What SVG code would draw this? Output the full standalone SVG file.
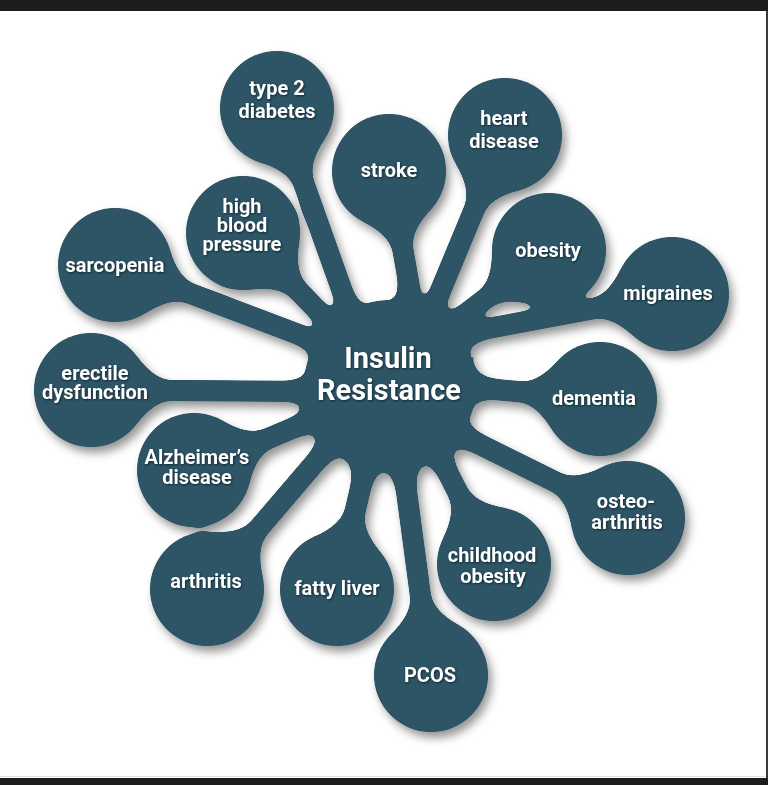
<svg xmlns="http://www.w3.org/2000/svg" width="768" height="785" viewBox="0 0 768 785">
<defs>
<style>
.node circle, .hub circle { fill: #2d5566; }
.conn path { fill: #2d5566; }
.lbl { font-family: Roboto, "Liberation Sans", sans-serif; font-weight: 700; font-size: 20px; fill: #ffffff; text-anchor: middle; filter: url(#tsh); }
.big { font-size: 29px; }
</style>
<filter id="goo" filterUnits="userSpaceOnUse" x="0" y="0" width="768" height="785" color-interpolation-filters="sRGB">
<feGaussianBlur in="SourceAlpha" stdDeviation="4" result="b"/>
<feColorMatrix in="b" type="matrix" values="0 0 0 0 0  0 0 0 0 0  0 0 0 0 0  0 0 0 30 -15" result="g"/>
<feFlood flood-color="#2d5566"/>
<feComposite in2="g" operator="in" result="shape"/>
<feGaussianBlur in="g" stdDeviation="5" result="sb"/>
<feOffset in="sb" dx="4" dy="6" result="so"/>
<feFlood flood-color="#000000" flood-opacity="0.42"/>
<feComposite in2="so" operator="in" result="shadow"/>
<feMerge><feMergeNode in="shadow"/><feMergeNode in="shape"/><feMergeNode in="SourceGraphic"/></feMerge>
</filter>
<filter id="tsh" x="-20%" y="-40%" width="140%" height="180%" color-interpolation-filters="sRGB">
<feDropShadow dx="0.8" dy="1" stdDeviation="0.8" flood-color="#0d2128" flood-opacity="0.9"/>
</filter>
</defs>
<rect x="0" y="0" width="768" height="785" fill="#ffffff"/>
<rect x="0" y="0" width="768" height="11" fill="#1c1c1c"/>
<rect x="0" y="776" width="768" height="1" fill="#e2e2e2"/>
<rect x="0" y="778" width="768" height="7" fill="#1c1c1c"/>
<rect x="766" y="11" width="2" height="767" fill="#3a3a3a"/>
<g id="diagram" filter="url(#goo)">
<g id="connectors" class="conn">
<path transform="translate(277 108) rotate(70.4)" d="M45.5,-34.3 Q63.4,-10.5 80,-10.5 L193,-10.5 Q220,-10.5 221,-30 L265,-24 L265,24 L221,30 Q220,10.5 193,10.5 L80,10.5 Q63.4,10.5 45.5,34.3 Z"/>
<path transform="translate(389 171) rotate(80)" d="M45.5,-34.3 Q63.4,-10.5 80,-10.5 L135,-10.5 Q162,-10.5 163,-30 L200,-24 L200,24 L132,30 Q131,10.5 104,10.5 L80,10.5 Q63.4,10.5 45.5,34.3 Z"/>
<path transform="translate(505 135) rotate(112.5)" d="M45.5,-34.3 Q63.4,-10.5 80,-10.5 L169,-10.5 Q196,-10.5 197,-30 L241,-24 L241,24 L197,30 Q196,10.5 169,10.5 L80,10.5 Q63.4,10.5 45.5,34.3 Z"/>
<path transform="translate(243 233) rotate(46.1)" d="M45.5,-34.3 Q63.4,-10.5 80,-10.5 L104,-10.5 Q131,-10.5 132,-30 L176,-24 L176,24 L132,30 Q131,10.5 104,10.5 L80,10.5 Q63.4,10.5 45.5,34.3 Z"/>
<path transform="translate(115 265) rotate(20.7)" d="M45.5,-34.3 Q63.4,-10.5 80,-10.5 L205,-10.5 Q232,-10.5 233,-30 L266,-24 L266,24 L221,30 Q220,10.5 193,10.5 L80,10.5 Q63.4,10.5 45.5,34.3 Z"/>
<path transform="translate(91 390) rotate(0.4)" d="M45.5,-34.3 Q63.4,-10.5 80,-10.5 L191,-10.5 Q218,-10.5 219,-30 L263,-24 L263,24 L219,30 Q218,10.5 191,10.5 L80,10.5 Q63.4,10.5 45.5,34.3 Z"/>
<path transform="translate(194 470) rotate(-23)" d="M45.5,-34.3 Q63.4,-10.5 80,-10.5 L105,-10.5 Q132,-10.5 133,-30 L177,-24 L177,24 L133,30 Q132,10.5 105,10.5 L80,10.5 Q63.4,10.5 45.5,34.3 Z"/>
<path transform="translate(207 589) rotate(-49.5)" d="M45.5,-34.3 Q63.4,-10.5 80,-10.5 L166,-10.5 Q193,-10.5 194,-30 L238,-24 L238,24 L194,30 Q193,10.5 166,10.5 L80,10.5 Q63.4,10.5 45.5,34.3 Z"/>
<path transform="translate(337 589) rotate(-76.9)" d="M45.5,-34.3 Q63.4,-10.5 80,-10.5 L102,-10.5 Q129,-10.5 130,-30 L174,-24 L174,24 L130,30 Q129,10.5 102,10.5 L80,10.5 Q63.4,10.5 45.5,34.3 Z"/>
<path transform="translate(431 675) rotate(-97.6)" d="M45.5,-34.3 Q63.4,-10.5 80,-10.5 L184,-10.5 Q211,-10.5 212,-30 L256,-24 L256,24 L212,30 Q211,10.5 184,10.5 L80,10.5 Q63.4,10.5 45.5,34.3 Z"/>
<path transform="translate(494 564) rotate(-116.8)" d="M45.5,-34.3 Q63.4,-10.5 80,-10.5 L99,-10.5 Q126,-10.5 127,-30 L171,-24 L171,24 L127,30 Q126,10.5 99,10.5 L80,10.5 Q63.4,10.5 45.5,34.3 Z"/>
<path transform="translate(628 518) rotate(-153.6)" d="M45.5,-34.3 Q63.4,-10.5 80,-10.5 L165,-10.5 Q192,-10.5 193,-30 L237,-24 L237,24 L193,30 Q192,10.5 165,10.5 L80,10.5 Q63.4,10.5 45.5,34.3 Z"/>
<path transform="translate(600 399) rotate(-174.8)" d="M45.5,-34.3 Q63.4,-10.5 80,-10.5 L102,-10.5 Q129,-10.5 130,-30 L174,-24 L174,24 L130,30 Q129,10.5 102,10.5 L80,10.5 Q63.4,10.5 45.5,34.3 Z"/>
<path transform="translate(672 294) rotate(169.4)" d="M45.5,-34.3 Q63.4,-10.5 80,-10.5 L186,-10.5 Q213,-10.5 214,-30 L270,-24 L270,24 L248,30 Q247,10.5 220,10.5 L80,10.5 Q63.4,10.5 45.5,34.3 Z"/>
<path transform="translate(549 250) rotate(142.5)" d="M45.5,-34.3 Q63.4,-10.5 80,-10.5 L102,-10.5 Q129,-10.5 130,-30 L174,-24 L174,24 L130,30 Q129,10.5 102,10.5 L80,10.5 Q63.4,10.5 45.5,34.3 Z"/>
</g>
<g id="hub" class="hub">
<circle cx="390" cy="386" r="86"/>
<text class="lbl big" x="388" y="368">Insulin</text>
<text class="lbl big" x="389" y="400">Resistance</text>
</g>
<g id="type2-diabetes" class="node">
<circle cx="277" cy="108" r="57"/>
<text class="lbl" x="277" y="95">type 2</text>
<text class="lbl" x="277" y="118">diabetes</text>
</g>
<g id="stroke" class="node">
<circle cx="389" cy="171" r="57"/>
<text class="lbl" x="389" y="177">stroke</text>
</g>
<g id="heart-disease" class="node">
<circle cx="505" cy="135" r="57"/>
<text class="lbl" x="504" y="125">heart</text>
<text class="lbl" x="504" y="148">disease</text>
</g>
<g id="high-blood-pressure" class="node">
<circle cx="243" cy="233" r="57"/>
<text class="lbl" x="242" y="213">high</text>
<text class="lbl" x="242" y="232">blood</text>
<text class="lbl" x="242" y="251">pressure</text>
</g>
<g id="obesity" class="node">
<circle cx="549" cy="250" r="57"/>
<text class="lbl" x="548" y="257">obesity</text>
</g>
<g id="sarcopenia" class="node">
<circle cx="115" cy="265" r="57"/>
<text class="lbl" x="115" y="272">sarcopenia</text>
</g>
<g id="migraines" class="node">
<circle cx="672" cy="294" r="57"/>
<text class="lbl" x="668" y="300">migraines</text>
</g>
<g id="erectile-dysfunction" class="node">
<circle cx="91" cy="390" r="57"/>
<text class="lbl" x="95" y="380">erectile</text>
<text class="lbl" x="95" y="399">dysfunction</text>
</g>
<g id="dementia" class="node">
<circle cx="600" cy="399" r="57"/>
<text class="lbl" x="594" y="405">dementia</text>
</g>
<g id="alzheimers-disease" class="node">
<circle cx="194" cy="470" r="57"/>
<text class="lbl" x="197" y="464">Alzheimer’s</text>
<text class="lbl" x="197" y="484">disease</text>
</g>
<g id="osteo-arthritis" class="node">
<circle cx="628" cy="518" r="57"/>
<text class="lbl" x="626" y="508">osteo-</text>
<text class="lbl" x="627" y="529">arthritis</text>
</g>
<g id="arthritis" class="node">
<circle cx="207" cy="589" r="57"/>
<text class="lbl" x="206" y="588">arthritis</text>
</g>
<g id="fatty-liver" class="node">
<circle cx="337" cy="589" r="57"/>
<text class="lbl" x="337" y="595">fatty liver</text>
</g>
<g id="childhood-obesity" class="node">
<circle cx="494" cy="564" r="57"/>
<text class="lbl" x="492" y="562">childhood</text>
<text class="lbl" x="493" y="583">obesity</text>
</g>
<g id="pcos" class="node">
<circle cx="431" cy="675" r="57"/>
<text class="lbl" x="430" y="682">PCOS</text>
</g>
</g>
</svg>
